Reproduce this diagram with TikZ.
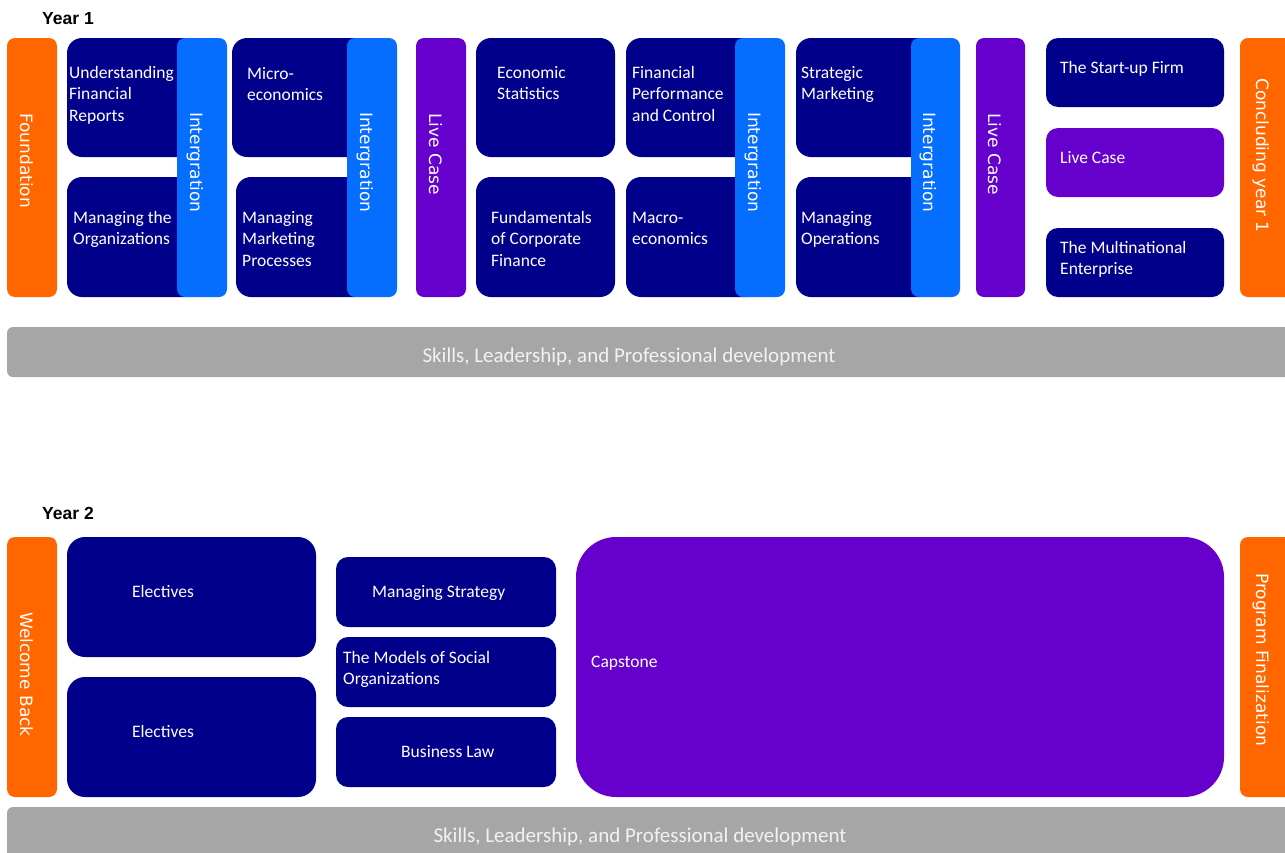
\documentclass[tikz,border=0pt]{standalone}
\usepackage{fontspec}
\setmainfont{Carlito}
\newfontfamily\vfont{DejaVu Sans}
\newfontfamily\yfont{Liberation Sans}
\definecolor{navy}{RGB}{0,0,139}
\definecolor{intblue}{RGB}{5,110,255}
\definecolor{purp}{RGB}{102,0,204}
\definecolor{orng}{RGB}{255,102,0}
\definecolor{gbar}{RGB}{166,166,166}
\newcommand\stk[1]{\vtop{\baselineskip=21.5pt\halign{##\hfil\cr#1\crcr}}}
\tikzset{
  navybox/.style={fill=navy, rounded corners=15pt},
  intbar/.style={fill=intblue, rounded corners=8pt},
  purpbar/.style={fill=purp, rounded corners=8pt},
  orbar/.style={fill=orng, rounded corners=8pt},
  graybar/.style={fill=gbar, rounded corners=6pt},
  txt/.style={inner sep=0pt, anchor=base west, text=white, font=\fontsize{17.5}{21.5}\selectfont},
  vtxt/.style={inner sep=0pt, anchor=base west, rotate=-90, text=white, font=\vfont\fontsize{17}{20}\selectfont},
  skilltxt/.style={inner sep=0pt, anchor=base, text=white!95!black, font=\fontsize{21}{25}\selectfont},
  yeartxt/.style={inner sep=0pt, anchor=base west, font=\yfont\bfseries\fontsize{17.5}{20}\selectfont},
}
\begin{document}
\begin{tikzpicture}[x=1pt,y=-1pt]
\clip (0,0) rectangle (1285,852);
\fill[white] (0,0) rectangle (1285,852);
% ---------- Year 1 ----------
\node[yeartxt] (y1) at (42,24) {Year 1};
\fill[orbar] (7,38) rectangle (57,297);
\node[vtxt] (found) at (20,113) {Foundation};
% group 1
\fill[navybox] (67,38) rectangle (200,157);
\fill[navybox] (67,177) rectangle (200,297);
\fill[intbar] (177,38) rectangle (227,297);
\node[txt] (ufr) at (69,78) {\stk{Understanding\cr Financial\cr Reports}};
\node[txt] (mto) at (73,223) {\stk{Managing the\cr Organizations}};
\node[vtxt] (int1) at (190,112) {Intergration};
% group 2
\fill[navybox] (232,38) rectangle (370,157);
\fill[navybox] (236,177) rectangle (370,297);
\fill[intbar] (347,38) rectangle (397,297);
\node[txt] (mic) at (247,79) {\stk{Micro-\cr economics}};
\node[txt] (mmp) at (242,223) {\stk{Managing\cr Marketing\cr Processes}};
\node[vtxt] (int2) at (360,112) {Intergration};
% live case 1
\fill[purpbar] (416,38) rectangle (466,297);
\node[vtxt] (lc1) at (429,113) {Live Case};
% group 3
\fill[navybox] (476,38) rectangle (615,157);
\fill[navybox] (476,177) rectangle (615,297);
\node[txt] (es) at (497,78) {\stk{Economic\cr Statistics}};
\node[txt] (fcf) at (491,223) {\stk{Fundamentals\cr of Corporate\cr Finance}};
% group 4
\fill[navybox] (626,38) rectangle (760,157);
\fill[navybox] (626,177) rectangle (760,297);
\fill[intbar] (735,38) rectangle (785,297);
\node[txt] (fpc) at (632,78) {\stk{Financial\cr Performance\cr and Control}};
\node[txt] (mac) at (632,223) {\stk{Macro-\cr economics}};
\node[vtxt] (int3) at (748,112) {Intergration};
% group 5
\fill[navybox] (796,38) rectangle (935,157);
\fill[navybox] (796,177) rectangle (935,297);
\fill[intbar] (911,38) rectangle (960,297);
\node[txt] (sm) at (801,78) {\stk{Strategic\cr Marketing}};
\node[txt] (mo) at (801,223) {\stk{Managing\cr Operations}};
\node[vtxt] (int4) at (923,112) {Intergration};
% live case 2
\fill[purpbar] (976,38) rectangle (1025,297);
\node[vtxt] (lc2) at (988,113) {Live Case};
% right stack
\fill[navybox, rounded corners=12pt] (1046,38) rectangle (1224,107);
\fill[purpbar, rounded corners=12pt] (1046,128) rectangle (1224,197);
\fill[navybox, rounded corners=12pt] (1046,228) rectangle (1224,297);
\node[txt] (suf) at (1060,73) {The Start-up Firm};
\node[txt] (lc3) at (1060,163) {Live Case};
\node[txt] (mne) at (1060,253) {\stk{The Multinational\cr Enterprise}};
\fill[orbar] (1240,38) rectangle (1300,297);
\node[vtxt] (cy1) at (1256,78) {Concluding year 1};
% skills bar 1
\fill[graybar] (7,327) rectangle (1300,377);
\node[skilltxt] (sk1) at (629,362) {Skills, Leadership, and Professional development};
% ---------- Year 2 ----------
\node[yeartxt] (y2) at (42,519) {Year 2};
\fill[orbar] (7,537) rectangle (57,797);
\node[vtxt] (wb) at (20,612) {Welcome Back};
\fill[navybox, rounded corners=18pt] (67,537) rectangle (316,657);
\fill[navybox, rounded corners=18pt] (67,677) rectangle (316,797);
\node[txt] (el1) at (132,597) {Electives};
\node[txt] (el2) at (132,737) {Electives};
\fill[navybox, rounded corners=12pt] (336,557) rectangle (556,627);
\fill[navybox, rounded corners=12pt] (336,637) rectangle (556,707);
\fill[navybox, rounded corners=12pt] (336,717) rectangle (556,787);
\node[txt] (ms) at (372,597) {Managing Strategy};
\node[txt] (mso) at (343,663) {\stk{The Models of Social\cr Organizations}};
\node[txt] (bl) at (401,757) {Business Law};
\fill[purp, rounded corners=40pt] (576,537) rectangle (1224,797);
\node[txt] (cap) at (591,667) {Capstone};
\fill[orbar] (1240,537) rectangle (1300,797);
\node[vtxt] (pf) at (1256,573) {Program Finalization};
% skills bar 2
\fill[graybar] (7,807) rectangle (1300,870);
\node[skilltxt] (sk2) at (640,842) {Skills, Leadership, and Professional development};
\end{tikzpicture}
\end{document}
